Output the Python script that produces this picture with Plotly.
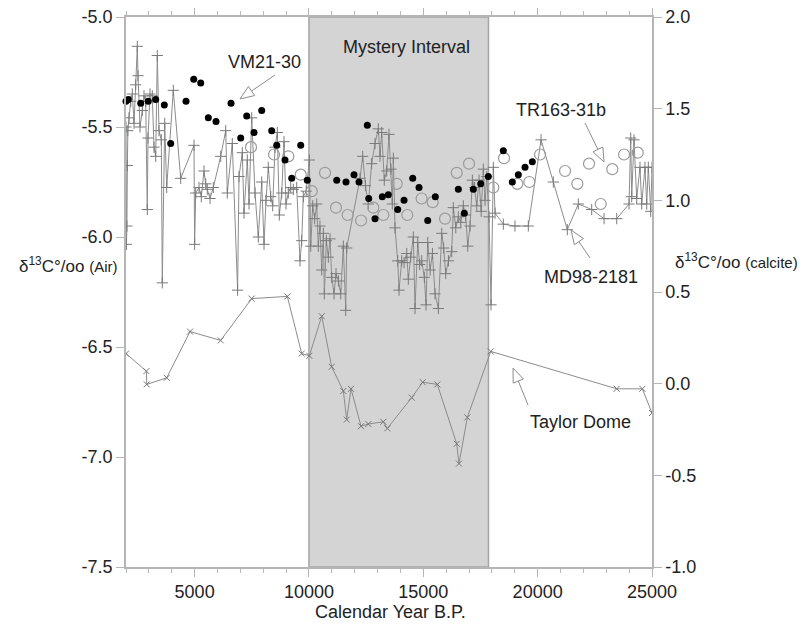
import plotly.graph_objects as go

# ---------------- data ----------------
# MD98-2181 (calcite, right axis)
md_x = [2000, 2020, 2040, 2060, 2080, 2131, 2205, 2276, 2350, 2424, 2494, 2525, 2612, 2713, 2787, 2861,
        2931, 2962, 3050, 3150, 3224, 3299, 3369, 3443, 3544, 3587, 3692, 3780, 4068, 4392, 4974, 5000,
        5048, 5192, 5293, 5411, 5485, 5555, 5673, 5818, 6141, 6360, 6430, 6648, 6880, 6941, 7086, 7160,
        7305, 7379, 7497, 7641, 7785, 7934, 8035, 8122, 8223, 8328, 8415, 8516, 8617, 8704, 8809, 8910,
        8997, 9098, 9203, 9316, 9465, 9609, 9683, 9753, 9880, 10017, 10077, 10164, 10250, 10339, 10409,
        10480, 10558, 10630, 10673, 10760, 10847, 10920, 10995, 11096, 11183, 11290, 11389, 11503, 11607,
        11650, 12233, 12350, 12470, 12596, 12740, 12889, 13033, 13107, 13181, 13295, 13400, 13500, 13588,
        13645, 13690, 13763, 13881, 13938, 14056, 14160, 14275, 14345, 14450, 14564, 14638, 14756, 14840,
        14931, 15045, 15119, 15193, 15300, 15399, 15513, 15657, 15806, 15890, 15981, 16100, 16242, 16313,
        16420, 16532, 16640, 16750, 16850, 16943, 17044, 17145, 17240, 17338, 17437, 17530, 17625, 17700,
        17774, 17874, 17961, 18062, 18137, 18499, 19008, 19592, 20148, 20685, 21297, 21779, 22363, 22903,
        23458, 23996, 24070, 24113, 24214, 24331, 24475, 24549, 24694, 24768, 24839, 24944, 25000]
md_y = [1.40, 0.76, 0.86, 1.19, 1.38, 1.45, 1.54, 1.58, 1.42, 1.63, 1.84, 1.68, 1.40, 1.49, 1.57, 1.54,
        0.95, 1.34, 1.58, 1.57, 1.29, 1.24, 1.79, 1.38, 1.33, 0.55, 1.42, 1.07, 1.60, 1.12, 1.30, 0.76,
        1.04, 1.07, 1.02, 1.16, 1.09, 1.06, 1.01, 1.07, 1.24, 1.38, 1.04, 1.31, 0.51, 1.13, 1.26, 0.93,
        1.22, 0.98, 1.45, 1.04, 0.80, 1.10, 0.76, 1.00, 1.18, 1.02, 0.97, 1.29, 1.37, 0.92, 1.04, 1.32,
        0.98, 1.04, 1.07, 1.06, 1.07, 0.67, 0.78, 1.02, 1.05, 1.22, 0.75, 0.97, 0.90, 0.98, 0.75,
        0.86, 0.62, 0.82, 0.49, 0.78, 0.69, 0.79, 0.58, 0.49, 0.60, 0.56, 0.49, 0.75, 0.40,
        0.74, 1.12, 1.24, 1.08, 0.98, 1.20, 1.31, 1.39, 1.24, 1.37, 1.11, 1.16, 1.36, 1.17,
        0.98, 1.23, 0.85, 0.67, 0.51, 0.67, 0.66, 0.71, 0.57, 0.69, 0.80, 0.41, 0.77, 0.65,
        0.67, 0.58, 0.43, 0.77, 0.62, 0.71, 0.49, 0.41, 0.82, 0.74, 0.60, 0.67, 0.72, 0.96,
        0.85, 0.91, 0.88, 0.97, 0.92, 0.75, 0.86, 1.11, 1.07, 0.97, 1.11, 0.94, 1.17, 1.00,
        1.13, 0.91, 0.43, 1.18, 0.93, 0.87, 0.86, 0.86, 1.33, 1.10, 0.84, 0.98, 0.95, 0.90,
        0.90, 0.98, 1.34, 1.02, 1.33, 1.01, 1.18, 0.98, 1.18, 0.98, 1.18, 0.94, 1.18]

# VM21-30 (calcite, right axis, filled dots)
vm_x = [2000, 2100, 2643, 2975, 3299, 3675, 3955, 4624, 4961, 5267, 5600, 5936, 6592, 7016, 7278, 7597,
        7934, 8371, 8590, 8953, 9246, 9640, 9928, 11214, 11620, 11970, 12189, 12552, 12613, 12889, 13208,
        13470, 13881, 14157, 14537, 14813, 15193, 15526, 16532, 16794, 17188, 17511, 17844, 18499, 18893,
        19155, 19448, 19767]
vm_y = [1.54, 1.55, 1.53, 1.54, 1.55, 1.52, 1.31, 1.54, 1.66, 1.64, 1.45, 1.43, 1.53, 1.34, 1.46, 1.37,
        1.49, 1.38, 1.30, 1.22, 1.12, 1.30, 1.11, 1.11, 1.10, 1.14, 1.10, 1.41, 1.01, 0.90, 1.02,
        1.03, 0.95, 1.00, 1.12, 1.07, 0.89, 1.02, 1.06, 0.93, 1.06, 1.09, 1.13, 1.27, 1.10,
        1.14, 1.18, 1.21]

# TR163-31b (calcite, right axis, open circles)
tr_x = [7466, 8472, 9098, 9640, 10121, 10702, 11183, 11694, 12277, 12814, 13252, 13837, 14301, 14926,
        15408, 15950, 16462, 16999, 18062, 18530, 19111, 19636, 20104, 21198, 21735, 22246, 22758, 23265,
        23778, 24377]
tr_y = [1.29, 1.25, 1.24, 1.14, 1.05, 1.15, 0.96, 0.92, 0.89, 0.96, 0.92, 1.09, 0.92, 1.01,
        0.99, 0.90, 1.15, 1.20, 1.07, 1.23, 1.09, 1.10, 1.25, 1.16, 1.09, 1.20, 0.98, 1.17,
        1.25, 1.26]

# Taylor Dome (air, left axis)
td_x = [2000, 2890, 2910, 3780, 4800, 6140, 7497, 9055, 9683, 10017, 10558, 10995, 11503, 11650, 11839,
        12277, 12596, 13252, 13427, 14493, 14975, 15613, 16462, 16560, 16925, 17948, 23457, 24577, 25000]
td_y = [-6.53, -6.61, -6.67, -6.64, -6.43, -6.47, -6.28, -6.27, -6.53, -6.54, -6.36, -6.59, -6.70, -6.83,
        -6.69, -6.86, -6.85, -6.84, -6.87, -6.73, -6.66, -6.67, -6.94, -7.03, -6.82, -6.52, -6.69, -6.69,
        -6.80]

x_ticks = [5000, 10000, 15000, 20000, 25000]
x_labels = ["5000", "10000", "15000", "20000", "25000"]
y_ticks = [-7.5, -7.0, -6.5, -6.0, -5.5, -5.0]
y_labels = ["-7.5", "-7.0", "-6.5", "-6.0", "-5.5", "-5.0"]
y2_ticks = [-1.0, -0.5, 0.0, 0.5, 1.0, 1.5, 2.0]
y2_labels = ["-1.0", "-0.5", "0.0", "0.5", "1.0", "1.5", "2.0"]

mystery = (10000, 17850)

# ---------------- figure ----------------
GRAY = "#8c8c8c"
AX = "#b5b5b5"
TXT = "#222222"
FONT = "Liberation Sans, Arial, sans-serif"

fig = go.Figure()

fig.add_trace(go.Scatter(x=td_x, y=td_y, mode="lines+markers", yaxis="y", name="Taylor Dome",
                         line=dict(color=GRAY, width=1),
                         marker=dict(symbol="x-thin", size=6, line=dict(color="#777777", width=1))))
fig.add_trace(go.Scatter(x=md_x, y=md_y, mode="lines+markers", yaxis="y2", name="MD98-2181",
                         line=dict(color=GRAY, width=1),
                         marker=dict(symbol="cross-thin", size=8, line=dict(color="#7a7a7a", width=1))))
fig.add_trace(go.Scatter(x=tr_x, y=tr_y, mode="markers", yaxis="y2", name="TR163-31b",
                         marker=dict(symbol="circle-open", size=11, color="#9a9a9a", line=dict(width=1.2)),
                         cliponaxis=False))
fig.add_trace(go.Scatter(x=vm_x, y=vm_y, mode="markers", yaxis="y2", name="VM21-30",
                         marker=dict(symbol="circle", size=7, color="#000000"), cliponaxis=False))

shapes = [dict(type="rect", xref="x", yref="paper", x0=mystery[0], x1=mystery[1], y0=0, y1=1,
               fillcolor="#d4d4d4", line=dict(color="#a5a5a5", width=1.5), layer="below")]


def arrow(tipx, tipy, dx, dy, yref="y2"):
    L, W = 14, 5.5
    n = (dx * dx + dy * dy) ** 0.5
    ux, uy = dx / n, dy / n
    px, py = -uy, ux
    bx, by = ux * L, uy * L
    c1 = (bx + px * W, by + py * W)
    c2 = (bx - px * W, by - py * W)
    common = dict(xref="x", yref=yref, xsizemode="pixel", ysizemode="pixel",
                  xanchor=tipx, yanchor=tipy, layer="above")
    shapes.append(dict(type="line", x0=bx, y0=-by, x1=dx, y1=-dy,
                       line=dict(color=GRAY, width=1), **common))
    shapes.append(dict(type="path",
                       path=f"M0,0 L{c1[0]:.2f},{-c1[1]:.2f} L{c2[0]:.2f},{-c2[1]:.2f} Z",
                       fillcolor="white", line=dict(color=GRAY, width=1), **common))


arrow(6985, 1.553, 35, -24)     # VM21-30
arrow(22903, 1.209, -19, -39)   # TR163-31b
arrow(21460, 0.838, 19, 28)     # MD98-2181
arrow(18924, 0.085, 15, 37)     # Taylor Dome

ann = []
def label(text, x, y):
    ann.append(dict(text=text, x=x, y=y, xref="x", yref="y2", showarrow=False,
                    font=dict(size=18, color=TXT, family=FONT), xanchor="center", yanchor="middle"))

label("VM21-30", 8035, 1.754)
label("Mystery Interval", 14244, 1.836)
label("TR163-31b", 21023, 1.493)
label("MD98-2181", 22334, 0.581)
label("Taylor Dome", 21853, -0.210)

ann.append(dict(text="Calendar Year B.P.", x=0.502, y=-0.082, xref="paper", yref="paper",
                showarrow=False, xanchor="center", yanchor="middle",
                font=dict(size=18, color=TXT, family=FONT)))
ann.append(dict(text="δ<sup>13</sup>C°/oo <span style='font-size:15px'>(Air)</span>", x=-0.014, y=0.549,
                xref="paper", yref="paper", showarrow=False, xanchor="right", yanchor="middle",
                font=dict(size=17, color=TXT, family=FONT)))
ann.append(dict(text="δ<sup>13</sup>C°/oo <span style='font-size:15px'>(calcite)</span>", x=1.04, y=0.556,
                xref="paper", yref="paper", showarrow=False, xanchor="left", yanchor="middle",
                font=dict(size=17, color=TXT, family=FONT)))

# the page body has an 8px default margin; margins compensate so the plot sits where the reference has it
fig.update_layout(
    width=809, height=627,
    margin=dict(l=118, r=165, t=9, b=68, autoexpand=False),
    paper_bgcolor="white", plot_bgcolor="white",
    showlegend=False,
    font=dict(family=FONT, size=18, color=TXT),
    shapes=shapes, annotations=ann,
    xaxis=dict(range=[2000, 25000], tickvals=x_ticks, ticktext=x_labels, ticks="outside", ticklen=8,
               tickcolor=AX, showline=True, linecolor=AX, linewidth=1.5, mirror="ticks", showgrid=False,
               zeroline=False, tickfont=dict(size=18, color=TXT), automargin=False,
               ticklabeloverflow="allow",
               minor=dict(dtick=1000, ticks="outside", ticklen=4, tickcolor=AX, showgrid=False)),
    yaxis=dict(range=[-7.5, -5.0], tickvals=y_ticks, ticktext=y_labels, ticks="outside", ticklen=8,
               tickcolor=AX, showline=True, linecolor=AX, linewidth=1.5, showgrid=False,
               zeroline=False, tickfont=dict(size=18, color=TXT), automargin=False,
               ticklabeloverflow="allow"),
    yaxis2=dict(range=[-1.0, 2.0], overlaying="y", side="right", tickvals=y2_ticks, ticktext=y2_labels,
                ticks="outside", ticklen=8, tickcolor=AX, showline=True, linecolor=AX, linewidth=1.5,
                showgrid=False, zeroline=False, tickfont=dict(size=18, color=TXT), automargin=False,
                ticklabeloverflow="allow"),
)

fig.write_html("out.html")
